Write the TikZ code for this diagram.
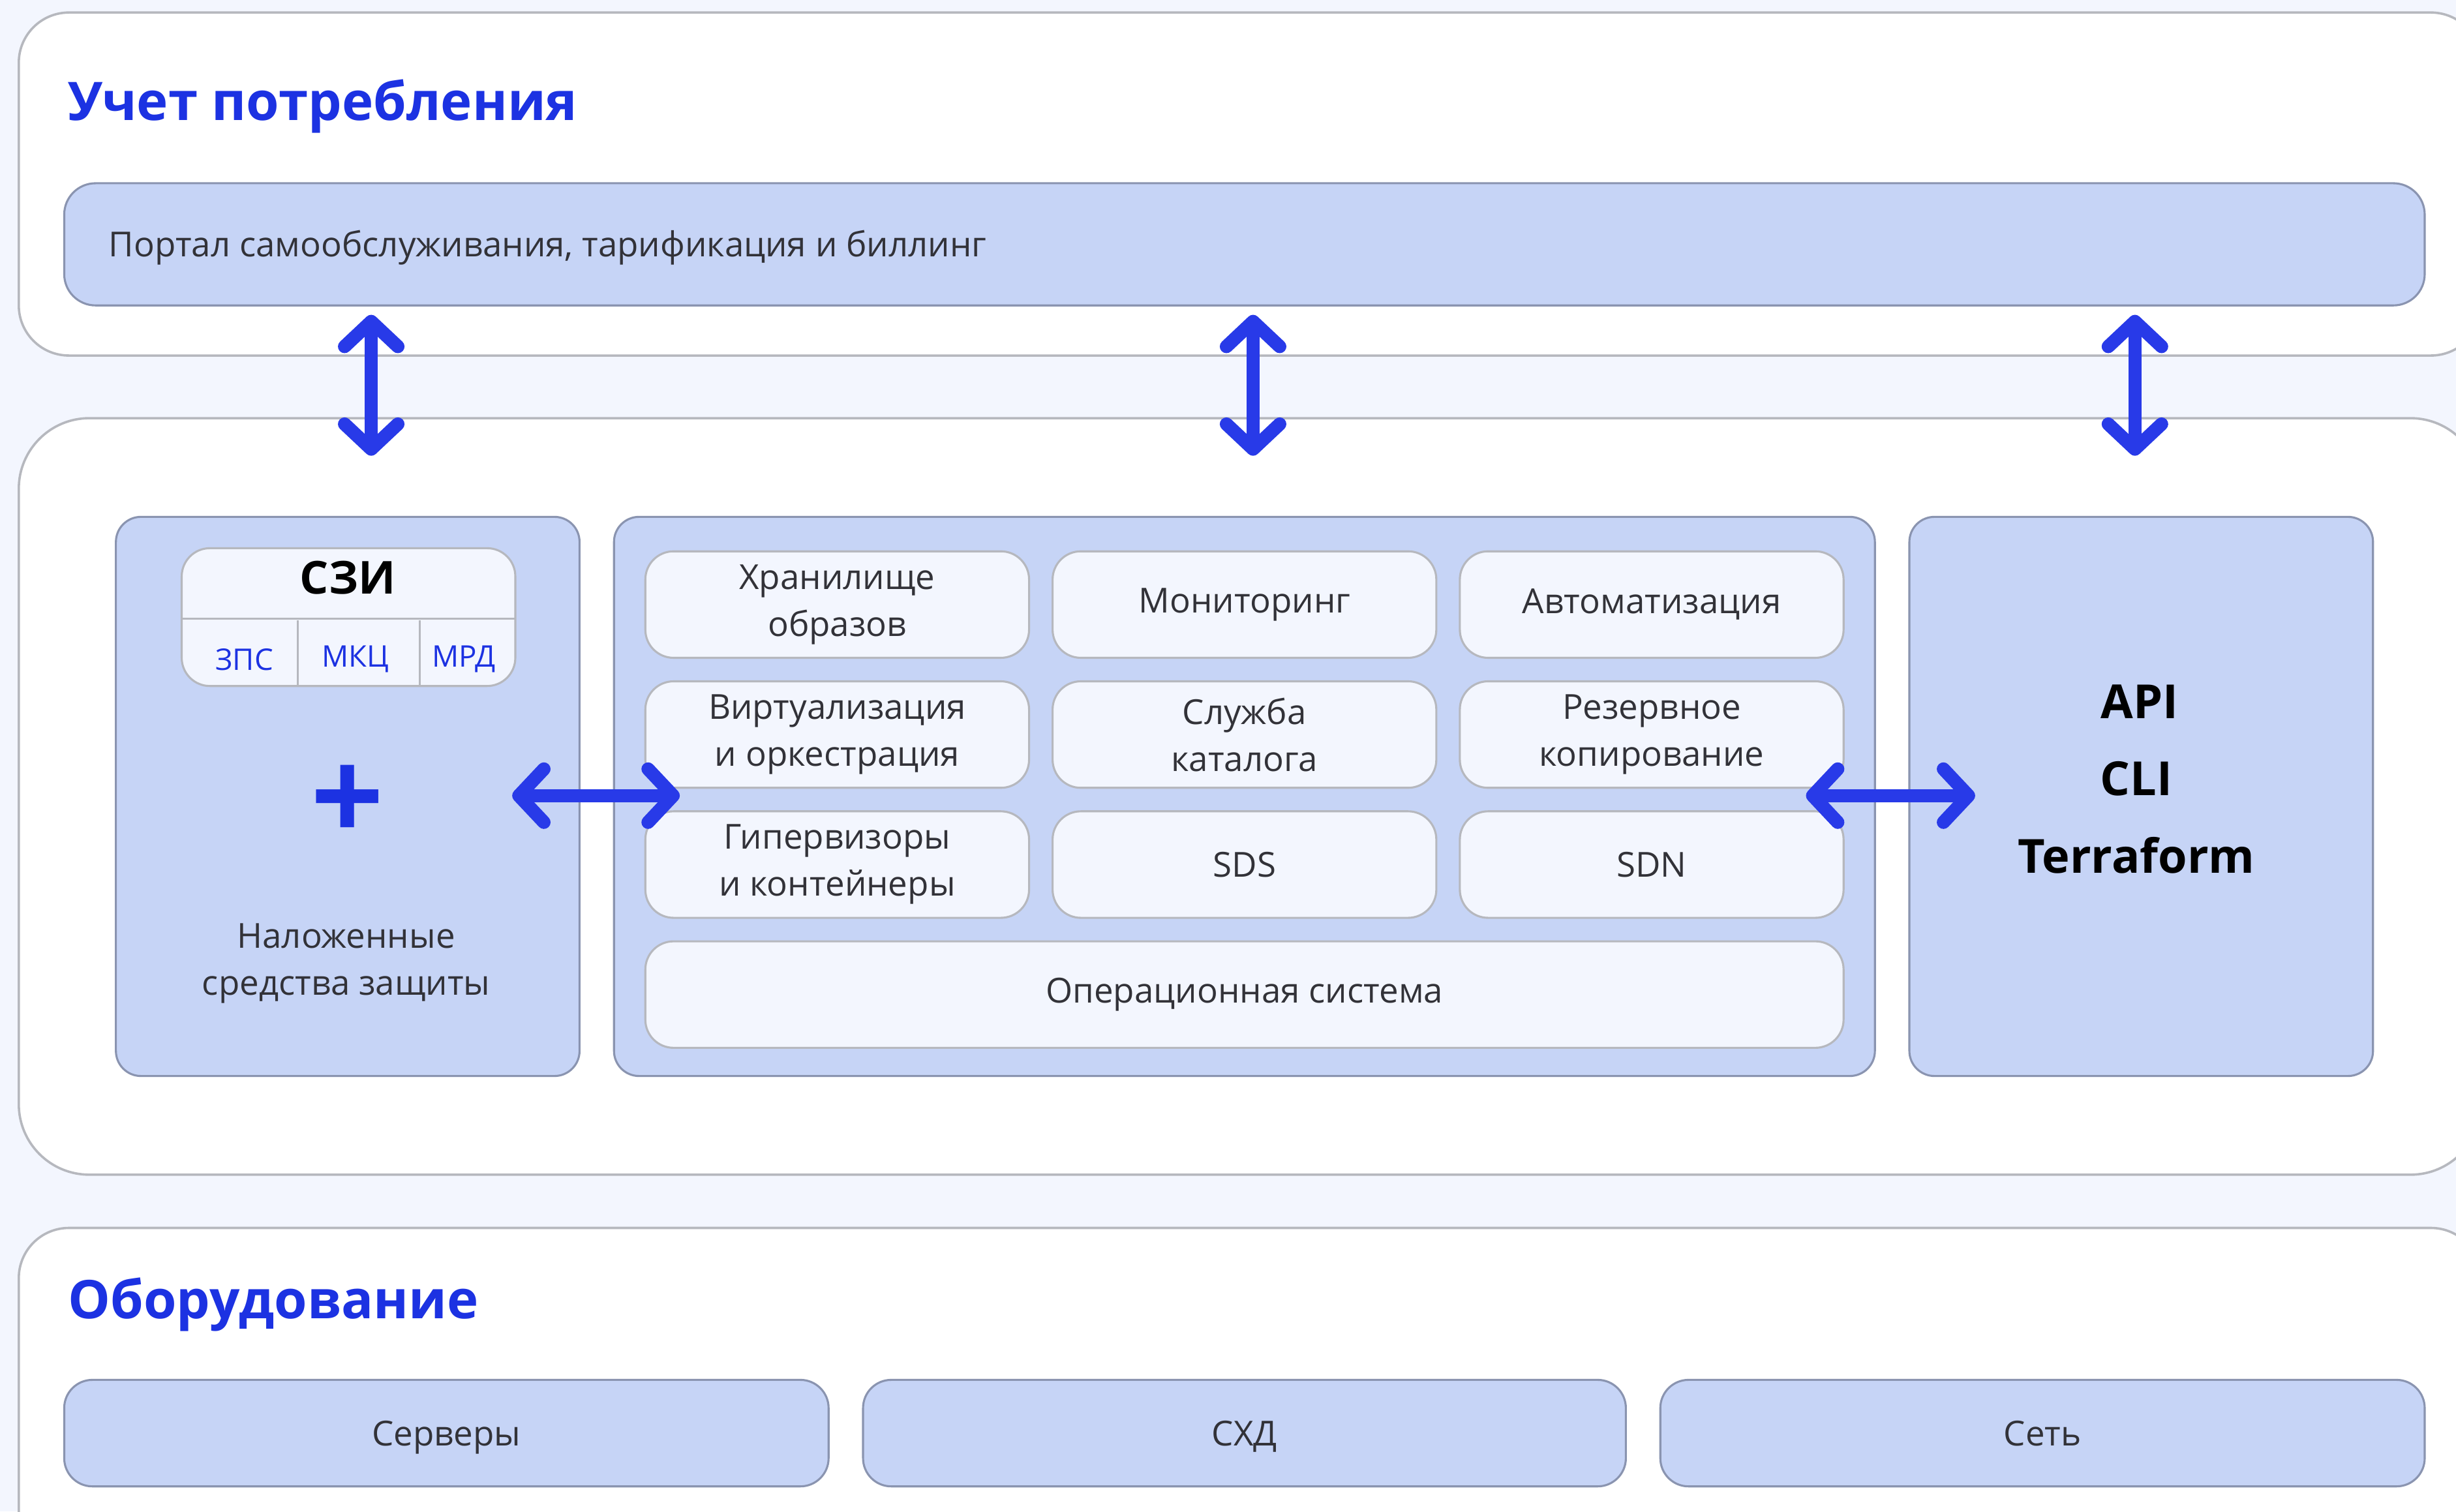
\documentclass[tikz,border=0pt]{standalone}
\usepackage{fontspec}
\setmainfont{Open Sans}
\usepackage{tikz}
\usetikzlibrary{arrows.meta}

\definecolor{fon}{RGB}{243,246,254}
\definecolor{sinij}{RGB}{28,50,226}
\definecolor{strelka}{RGB}{40,58,232}
\definecolor{blok}{RGB}{198,212,246}
\definecolor{ramka}{RGB}{138,148,176}
\definecolor{seryj}{RGB}{182,184,190}
\definecolor{karta}{RGB}{243,246,254}
\definecolor{tekst}{RGB}{50,50,56}

\tikzset{
  panel/.style={draw=seryj,line width=1.5pt,fill=white,rounded corners=32pt,inner sep=0pt},
  blok/.style={draw=ramka,line width=1.3pt,fill=blok,rounded corners=16pt,inner sep=0pt},
  karta/.style={draw=seryj,line width=1.3pt,fill=karta,rounded corners=18pt,inner sep=0pt,
    minimum width=245pt,minimum height=68pt,align=center,text=tekst,font=\fontsize{22}{30}\selectfont},
  zag/.style={anchor=base west,text=sinij,font=\fontsize{34}{40}\selectfont\bfseries},
  nadp/.style={text=tekst,font=\fontsize{22}{30}\selectfont,align=center},
  dvu/.style={draw=strelka,line width=8.5pt,line cap=round,
    >={Straight Barb[length=16pt,width=34pt,line cap=round,line join=round]},<->}
}

\begin{document}
\begin{tikzpicture}[x=1pt,y=-1pt] % 1 ед. = 1 пиксель уменьшенной картинки
\useasboundingbox (0,0) rectangle (1568,965);
\clip (0,0) rectangle (1568,965);
\fill[fon] (0,0) rectangle (1568,965);

% Учет потребления
\node[panel,minimum width=1572pt,minimum height=219pt](U) at (798,117.5) {};
\node[zag](U1) at (40,77) {Учет потребления};
\node[blok,rounded corners=20pt,minimum width=1507pt,minimum height=78pt](P) at (794.5,156) {};
\node[nadp,anchor=west](P1) at (66,158) {Портал самообслуживания, тарификация и биллинг};

% средняя часть
\node[panel,rounded corners=45pt,minimum width=1572pt,minimum height=483pt](M) at (798,508.5) {};
\node[blok,minimum width=296pt,minimum height=357pt](L) at (222,508.5) {};
\node[blok,minimum width=805pt,minimum height=357pt](C) at (794.5,508.5) {};
\node[blok,minimum width=296pt,minimum height=357pt](R) at (1367,508.5) {};

% СЗИ
\node[karta,minimum width=213pt,minimum height=88pt](S) at (222.5,394) {};
\draw[seryj,line width=1.2pt] (116,395) -- (329,395);
\draw[seryj,line width=1.2pt] (190,396) -- (190,438);\draw[seryj,line width=1.2pt] (268,396) -- (268,438);
\node[font=\fontsize{29}{30}\selectfont\bfseries](S0) at (222,369) {СЗИ};
\node[text=sinij,font=\fontsize{19}{22}\selectfont](S1) at (156,421) {ЗПС};
\node[text=sinij,font=\fontsize{19}{22}\selectfont](S2) at (227,421) {МКЦ};
\node[text=sinij,font=\fontsize{19}{22}\selectfont](S3) at (296,421) {МРД};
\node[text=sinij,font=\fontsize{82}{82}\selectfont\bfseries](PL) at (222,513) {+};
\node[nadp](L1) at (221,615) {Наложенные\\средства защиты};

% блоки платформы
\node[karta](K11) at (534.5,386) {Хранилище\\образов};\node[karta](K12) at (794.5,386) {Мониторинг};\node[karta](K13) at (1054.5,386) {Автоматизация};
\node[karta](K21) at (534.5,469) {Виртуализация\\и оркестрация};\node[karta](K22) at (794.5,469) {Служба\\каталога};\node[karta](K23) at (1054.5,469) {Резервное\\копирование};
\node[karta](K31) at (534.5,552) {Гипервизоры\\и контейнеры};\node[karta](K32) at (794.5,552) {SDS};\node[karta](K33) at (1054.5,552) {SDN};
\node[karta,minimum width=765pt](K4) at (794.5,635) {Операционная система};

\node[font=\fontsize{30}{32}\selectfont\bfseries](R1) at (1366,448) {API};
\node[font=\fontsize{30}{32}\selectfont\bfseries](R2) at (1364,497) {CLI};
\node[font=\fontsize{30}{32}\selectfont\bfseries](R3) at (1364,546) {Terraform};

% Оборудование
\node[panel,minimum width=1572pt,minimum height=300pt](O) at (798,934) {};
\node[zag](O1) at (40,842) {Оборудование};
\node[blok,rounded corners=18pt,minimum width=488pt,minimum height=68pt,nadp](H1) at (285,915) {};
\node[blok,rounded corners=18pt,minimum width=487pt,minimum height=68pt,nadp](H2) at (794.5,915) {};
\node[blok,rounded corners=18pt,minimum width=488pt,minimum height=68pt,nadp](H3) at (1304,915) {};
\node[nadp,anchor=base](H1t) at (285,923) {Серверы};\node[nadp,anchor=base](H2t) at (794.5,923) {СХД};\node[nadp,anchor=base](H3t) at (1304,923) {Сеть};

% стрелки
\coordinate(a1) at (237,201);\coordinate(b1) at (237,291);
\coordinate(a2) at (800,201);\coordinate(b2) at (800,291);
\coordinate(a3) at (1363,201);\coordinate(b3) at (1363,291);
\coordinate(a4) at (327,508);\coordinate(b4) at (434,508);
\coordinate(a5) at (1153,508);\coordinate(b5) at (1261,508);
\draw[dvu] (a1) -- (b1);\draw[dvu] (a2) -- (b2);\draw[dvu] (a3) -- (b3);
\draw[dvu] (a4) -- (b4);\draw[dvu] (a5) -- (b5);
\end{tikzpicture}
\end{document}
